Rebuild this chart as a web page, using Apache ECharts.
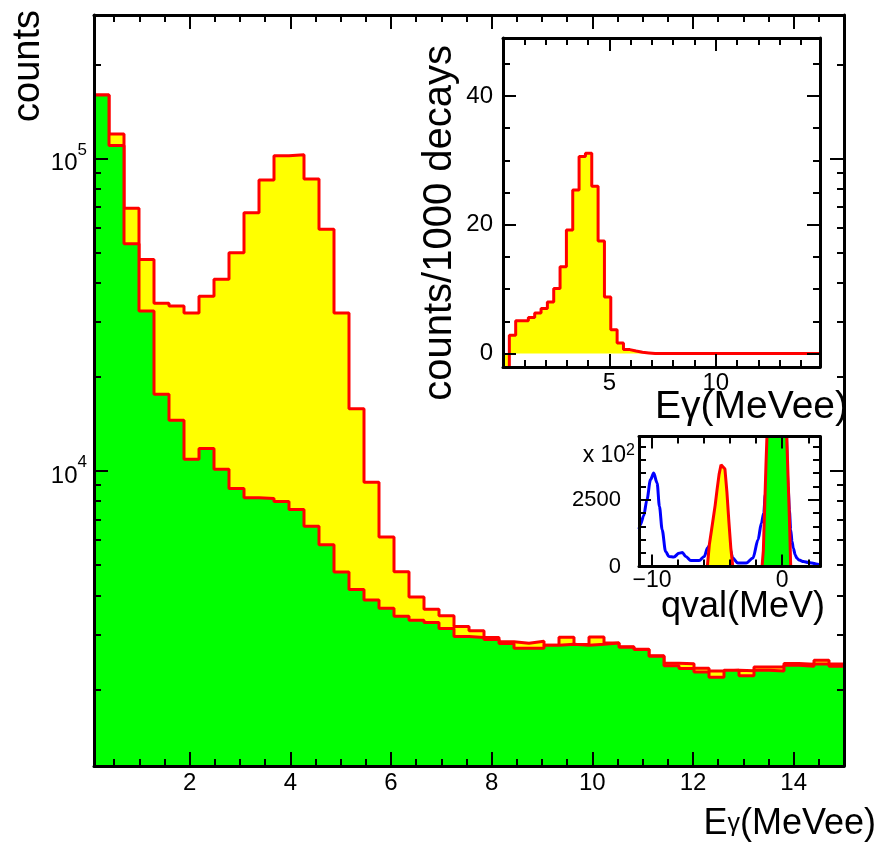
<!DOCTYPE html>
<html>
<head>
<meta charset="utf-8">
<script src="https://cdn.jsdelivr.net/npm/echarts@6/dist/echarts.min.js"></script>
<style>
html, body { margin: 0; padding: 0; background: #fff; }
#chart { width: 881px; height: 842px; }
</style>
</head>
<body>
<div id="chart"></div>
<script>
// main spectrum, 50 bins from 0.1 to 15 MeVee
const mainBinStart = 0.1;
const mainBinWidth = 0.298;
const totalCounts = [
  159400, 119600, 69200, 47500, 34400, 33700, 32000, 36200, 41000, 49900,
  67000, 85200, 101900, 102700, 85900, 59300, 32000, 15800, 9200, 6140,
  4760, 3950, 3610, 3440, 3180, 3080, 2930, 2840, 2810, 2850,
  2770, 2935, 2785, 2940, 2815, 2735, 2685, 2560, 2425, 2415,
  2335, 2290, 2300, 2295, 2360, 2360, 2420, 2405, 2480, 2410
];
const bgCounts = [
  159400, 109900, 53300, 32450, 17600, 14530, 10900, 11790, 10130, 8780,
  8200, 8160, 7980, 7520, 6650, 5800, 4750, 4175, 3865, 3635,
  3426, 3327, 3271, 3130, 2951, 2931, 2885, 2802, 2707, 2707,
  2767, 2788, 2767, 2788, 2815, 2727, 2683, 2552, 2379, 2331,
  2273, 2186, 2300, 2211, 2301, 2290, 2388, 2371, 2411, 2371
];

// inset: counts / 1000 decays
const insetBinStart = 0;
const insetBinWidth = 0.298;
const insetRate = [
  -3, 2.85, 5.1, 5.1, 5.6, 6.3, 7.0, 8.0, 10.1, 13.5,
  19.2, 25.4, 30.6, 31.1, 26.0, 17.5, 8.8, 3.7, 1.65, 0.62,
  0.4, 0.2, 0.1, 0, 0, 0, 0, 0, 0, 0,
  0, 0, 0, 0, 0, 0, 0, 0, 0, 0,
  0, 0, 0, 0, 0, 0, 0, 0, 0, 0
];

// qval inset (x 10^2 counts)
const qvalX = [-11, -10.9, -10.64, -10.39, -10.12, -9.87, -9.61, -9.43, -9.22, -8.96,
  -8.7, -8.32, -7.93, -7.67, -7.41, -7.02, -6.38, -5.99, -5.74, -5.5,
  -5.0, -4.5, -4.0, -3.8, -3.41, -2.76, -2.25, -1.86, -1.6, -1.42,
  -1.3, -1.1, -0.8, -0.4, 0.0, 0.25, 0.45, 0.55, 0.65, 0.75,
  0.85, 1.0, 1.12, 1.3, 1.63, 2.0, 2.28, 2.6, 2.9];
const qvalAll = [1400, 1560, 1900, 2500, 3250, 3500, 3126, 2250, 1375, 560,
  375, 352, 500, 525, 375, 225, 225, 375, 690, 850,
  950, 900, 650, 315, 127, 127, 315, 1000, 1627, 2000,
  2700, 4500, 9000, 14000, 10000, 6000, 3000, 2100, 1375, 950,
  690, 430, 315, 240, 187, 150, 127, 95, 63];
const qvalPeakAX = [-11, -5.75, -5.6, -5.45, -5.3, -5.15, -5.0, -4.85, -4.7, -4.55, -4.4, -4.25, -4.1, -3.95, -3.8, 2.9];
const qvalPeakA = [0, 0, 813, 1300, 1800, 2300, 2900, 3450, 3812, 3870, 3650, 2800, 1700, 700, 0, 0];
const qvalPeakBX = [-11, -1.55, -1.45, -1.35, -1.25, -1.15, -1.0, -0.7, -0.4, -0.1, 0.2, 0.35, 0.45, 0.55, 0.65, 2.9];
const qvalPeakB = [0, 0, 600, 2200, 3800, 5200, 7500, 12000, 14000, 12000, 7500, 4800, 3300, 1800, 0, 0];

// axis ranges and ticks
const mainXMin = 0.1, mainXMax = 15, mainYMin = 1137, mainYMax = 287500;
const insetXMin = 0, insetXMax = 14.9, insetYMin = -2.08, insetYMax = 49;
const qvalXMin = -11, qvalXMax = 2.9, qvalYMin = 0, qvalYMax = 4870;

function range(a, b, step) {
  const out = [];
  for (let v = a; v <= b + 1e-9; v += step) out.push(+v.toFixed(6));
  return out;
}
const mainXMajor = [2, 4, 6, 8, 10, 12, 14];
const mainXMinor = range(0.5, 14.5, 0.5);
const mainYMajor = [10000, 100000];
const mainYMinor = [2000, 3000, 4000, 5000, 6000, 7000, 8000, 9000,
  20000, 30000, 40000, 50000, 60000, 70000, 80000, 90000, 200000];
const insetXMajor = [5, 10];
const insetXMinor = range(1, 14, 1);
const insetYMajor = [0, 20, 40];
const insetYMinor = range(0, 45, 5);
const qvalXMajor = [-10, 0];
const qvalXMinor = range(-10, 2, 2);
const qvalYMajor = [0, 2500];
const qvalYMinor = range(0, 4500, 500);

const FONT = '"Liberation Sans", Arial, Helvetica, sans-serif';
const lg = Math.log10;

function histPoints(start, width, vals) {
  const pts = vals.map((v, i) => [start + width * i, v]);
  pts.push([start + width * vals.length, vals[vals.length - 1]]);
  return pts;
}
function pairs(xs, ys) {
  return xs.map((x, i) => [x, ys[i]]);
}

function frameAxis(grid, pos, type, min, max, o) {
  o = o || {};
  const ax = {
    type: type, gridIndex: grid, position: pos, min: min, max: max, z: 5,
    axisLine: { show: !!o.line, onZero: false, lineStyle: { color: '#000', width: 3 } },
    axisTick: { show: false },
    axisLabel: { show: false },
    splitLine: { show: false }
  };
  if (o.ticks) {
    ax.axisTick = { show: true, inside: true, length: o.len, customValues: o.ticks,
                    lineStyle: { color: '#000', width: 2 } };
  }
  if (o.labels) {
    ax.axisLabel = { show: true, customValues: o.labels, margin: o.margin,
                     fontSize: o.size, fontFamily: FONT, color: '#000',
                     formatter: o.fmt || (v => String(v)) };
    if (o.rich) ax.axisLabel.rich = o.rich;
  }
  return ax;
}

const minus = v => String(v).replace('-', '\u2212');
const powRich = {
  b: { fontSize: 24, fontFamily: FONT, color: '#000', lineHeight: 34, verticalAlign: 'bottom' },
  s: { fontSize: 17, fontFamily: FONT, color: '#000', lineHeight: 18, verticalAlign: 'top' }
};

const xAxes = [
  // main 0-3
  frameAxis(0, 'bottom', 'value', mainXMin, mainXMax, { line: true, ticks: mainXMajor, len: 14, labels: mainXMajor, margin: 5, size: 24 }),
  frameAxis(0, 'bottom', 'value', mainXMin, mainXMax, { ticks: mainXMinor, len: 7 }),
  frameAxis(0, 'top', 'value', mainXMin, mainXMax, { line: true, ticks: mainXMajor, len: 14 }),
  frameAxis(0, 'top', 'value', mainXMin, mainXMax, { ticks: mainXMinor, len: 7 }),
  // inset 4-7
  frameAxis(1, 'bottom', 'value', insetXMin, insetXMax, { line: true, ticks: insetXMajor, len: 13, labels: insetXMajor, margin: 4, size: 24 }),
  frameAxis(1, 'bottom', 'value', insetXMin, insetXMax, { ticks: insetXMinor, len: 7 }),
  frameAxis(1, 'top', 'value', insetXMin, insetXMax, { line: true, ticks: insetXMajor, len: 13 }),
  frameAxis(1, 'top', 'value', insetXMin, insetXMax, { ticks: insetXMinor, len: 7 }),
  // qval 8-11
  frameAxis(2, 'bottom', 'value', qvalXMin, qvalXMax, { line: true, ticks: qvalXMajor, len: 12, labels: qvalXMajor, margin: 3, size: 23, fmt: minus }),
  frameAxis(2, 'bottom', 'value', qvalXMin, qvalXMax, { ticks: qvalXMinor, len: 7 }),
  frameAxis(2, 'top', 'value', qvalXMin, qvalXMax, { line: true, ticks: qvalXMajor, len: 12 }),
  frameAxis(2, 'top', 'value', qvalXMin, qvalXMax, { ticks: qvalXMinor, len: 7 })
];

const yAxes = [
  // main 0-4 (0 is the log data axis, 1-4 draw the decade ticks)
  frameAxis(0, 'left', 'log', mainYMin, mainYMax, { line: true }),
  frameAxis(0, 'left', 'value', lg(mainYMin), lg(mainYMax), { ticks: mainYMajor.map(lg), len: 14, labels: mainYMajor.map(lg), margin: 7, size: 24,
    fmt: v => '{b|10}{s|' + Math.round(v) + '}', rich: powRich }),
  frameAxis(0, 'left', 'value', lg(mainYMin), lg(mainYMax), { ticks: mainYMinor.map(lg), len: 7 }),
  frameAxis(0, 'right', 'value', lg(mainYMin), lg(mainYMax), { line: true, ticks: mainYMajor.map(lg), len: 14 }),
  frameAxis(0, 'right', 'value', lg(mainYMin), lg(mainYMax), { ticks: mainYMinor.map(lg), len: 7 }),
  // inset 5-8
  frameAxis(1, 'left', 'value', insetYMin, insetYMax, { line: true, ticks: insetYMajor, len: 13, labels: insetYMajor, margin: 10, size: 24 }),
  frameAxis(1, 'left', 'value', insetYMin, insetYMax, { ticks: insetYMinor, len: 7 }),
  frameAxis(1, 'right', 'value', insetYMin, insetYMax, { line: true, ticks: insetYMajor, len: 13 }),
  frameAxis(1, 'right', 'value', insetYMin, insetYMax, { ticks: insetYMinor, len: 7 }),
  // qval 9-12
  frameAxis(2, 'left', 'value', qvalYMin, qvalYMax, { line: true, ticks: qvalYMajor, len: 12, labels: qvalYMajor, margin: 18, size: 22 }),
  frameAxis(2, 'left', 'value', qvalYMin, qvalYMax, { ticks: qvalYMinor, len: 7 }),
  frameAxis(2, 'right', 'value', qvalYMin, qvalYMax, { line: true, ticks: qvalYMajor, len: 12 }),
  frameAxis(2, 'right', 'value', qvalYMin, qvalYMax, { ticks: qvalYMinor, len: 7 })
];

function histSeries(xi, yi, data, fill, origin, z) {
  return {
    type: 'line', xAxisIndex: xi, yAxisIndex: yi, data: data, step: 'end',
    symbol: 'none', silent: true, z: z,
    lineStyle: { color: '#ff0000', width: 3 },
    areaStyle: { color: fill, opacity: 1, origin: origin }
  };
}

function titleText(x, y, text, size, rotated) {
  return {
    type: 'text', x: x, y: y, rotation: rotated ? Math.PI / 2 : 0, z: 10,
    style: { text: text, font: size + 'px ' + FONT, fill: '#000',
             textAlign: 'right', textVerticalAlign: 'bottom' }
  };
}

const chart = echarts.init(document.getElementById('chart'));
chart.setOption({
  animation: false,
  backgroundColor: '#fff',
  textStyle: { fontFamily: FONT },
  grid: [
    { left: 94, top: 15, width: 750, height: 751 },
    { left: 503, top: 38, width: 317, height: 329 },
    { left: 639, top: 436.5, width: 181, height: 130 }
  ],
  xAxis: xAxes,
  yAxis: yAxes,
  series: [
    histSeries(0, 0, histPoints(mainBinStart, mainBinWidth, totalCounts), '#ffff00', 'start', 2),
    histSeries(0, 0, histPoints(mainBinStart, mainBinWidth, bgCounts), '#00ff00', 'start', 3),
    histSeries(4, 5, histPoints(insetBinStart, insetBinWidth, insetRate), '#ffff00', 'auto', 2),
    {
      type: 'line', xAxisIndex: 8, yAxisIndex: 9, data: pairs(qvalX, qvalAll),
      symbol: 'none', silent: true, smooth: 0.3, smoothMonotone: 'x', z: 2,
      lineStyle: { color: '#0000ff', width: 3 }
    },
    {
      type: 'line', xAxisIndex: 8, yAxisIndex: 9, data: pairs(qvalPeakAX, qvalPeakA),
      symbol: 'none', silent: true, z: 3,
      lineStyle: { color: '#ff0000', width: 3 },
      areaStyle: { color: '#ffff00', opacity: 1 }
    },
    {
      type: 'line', xAxisIndex: 8, yAxisIndex: 9, data: pairs(qvalPeakBX, qvalPeakB),
      symbol: 'none', silent: true, z: 4,
      lineStyle: { color: '#ff0000', width: 3 },
      areaStyle: { color: '#00ff00', opacity: 1 }
    }
  ],
  graphic: [
    titleText(48, 10, 'counts', 38, true),
    titleText(460, 45, 'counts/1000 decays', 40, true),
    {
      type: 'text', x: 876, y: 842, z: 10,
      style: {
        text: '{e|E}{g|\u03b3}{e|(MeVee)}', fill: '#000',
        textAlign: 'right', textVerticalAlign: 'bottom',
        rich: {
          e: { fontSize: 36, fontFamily: FONT, fill: '#000' },
          g: { fontSize: 25, fontFamily: FONT, fill: '#000', verticalAlign: 'middle' }
        }
      }
    },
    titleText(848, 427, 'E\u03b3(MeVee)', 39, false),
    titleText(825, 625, 'qval(MeV)', 36, false),
    {
      type: 'text', x: 635, y: 455, z: 10,
      style: {
        text: '{a|x 10}{s|2}', fill: '#000',
        textAlign: 'right', textVerticalAlign: 'middle',
        rich: {
          a: { fontSize: 23, fontFamily: FONT, fill: '#000', lineHeight: 24, verticalAlign: 'bottom' },
          s: { fontSize: 16, fontFamily: FONT, fill: '#000', lineHeight: 16, verticalAlign: 'top' }
        }
      }
    }
  ]
});
</script>
</body>
</html>
